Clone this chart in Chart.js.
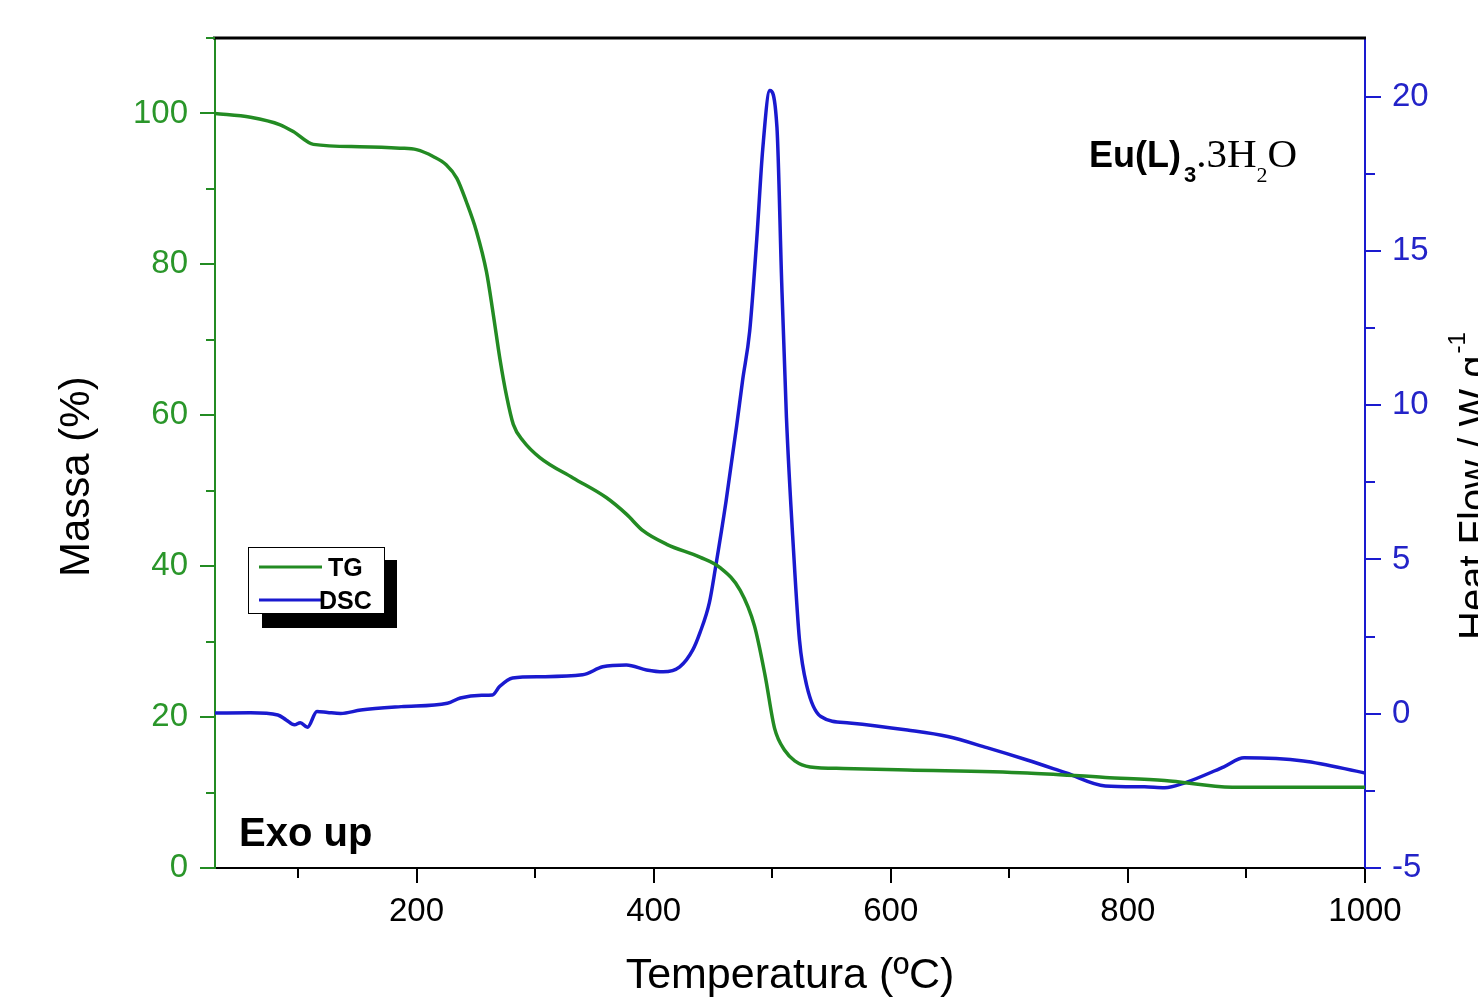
<!DOCTYPE html>
<html><head><meta charset="utf-8">
<script src="https://cdn.jsdelivr.net/npm/chart.js@4.4.1/dist/chart.umd.min.js"></script>
<style>html,body{margin:0;padding:0;background:#fff;overflow:hidden}canvas{display:block}</style>
</head><body>
<canvas id="c" width="1478" height="998"></canvas>
<script>
// ---- data ----
const tgTemp = [30, 60, 85, 96, 113, 152, 186, 200, 214, 225, 234, 242, 250.5, 259, 264.6, 270.3, 276, 281.6, 290, 304, 332, 360, 377, 391, 411, 439, 456, 473, 485, 494, 502, 511, 519, 532, 560, 614, 715, 781, 831, 888, 950, 1000];
const tgMass = [100.0, 99.5, 98.5, 97.6, 95.9, 95.6, 95.4, 95.2, 94.3, 93.2, 91.4, 88.3, 84.4, 79.0, 73.5, 67.5, 62.5, 58.8, 56.6, 54.4, 51.7, 49.1, 46.9, 44.7, 42.9, 41.2, 39.8, 36.8, 32.1, 25.5, 18.5, 15.5, 14.2, 13.4, 13.2, 13.0, 12.6, 12.0, 11.6, 10.7, 10.7, 10.7];

const dscTemp = [30, 60, 83, 90, 97, 102, 108, 116, 125, 136, 153, 187, 226, 237, 255, 264, 270, 281, 304, 340, 357, 377, 394, 408, 422, 433, 439, 447, 452, 461, 470, 475, 481, 487, 492, 498, 504, 508, 512, 518, 523, 529, 541, 565, 614, 648, 681, 715, 748, 781, 814, 831, 848, 881, 898, 948, 1000];
const dscHeat = [0.02, 0.03, -0.04, -0.2, -0.36, -0.29, -0.44, 0.07, 0.04, 0.01, 0.12, 0.23, 0.34, 0.51, 0.6, 0.61, 0.88, 1.16, 1.20, 1.26, 1.52, 1.58, 1.42, 1.36, 1.52, 2.07, 2.62, 3.6, 4.7, 6.87, 9.33, 10.8, 12.4, 15.4, 18.3, 20.2, 19.0, 13.97, 9.6, 5.28, 2.39, 0.93, -0.09, -0.3, -0.53, -0.74, -1.1, -1.5, -1.92, -2.34, -2.37, -2.4, -2.24, -1.72, -1.43, -1.53, -1.92];

const xTickLabels = [200, 400, 600, 800, 1000];
const massTickLabels = [0, 20, 40, 60, 80, 100];
const heatTickLabels = [-5, 0, 5, 10, 15, 20];

const GREEN = '#238b23';
const GREEN_TXT = '#2a962a';
const BLUE = '#1a1acf';
const BLUE_TXT = '#2323c8';
const FONT = "'Liberation Sans', Arial, sans-serif";
const SERIF = "'Liberation Serif', 'Times New Roman', serif";

function isMajor(v, list) { return list.some(m => Math.abs(m - v) < 1e-6); }
function pts(xs, ys) { return xs.map((x, i) => ({x: x, y: ys[i]})); }

const decor = {
  id: 'decor',
  afterDraw(chart) {
    const ctx = chart.ctx, a = chart.chartArea;
    const sx = chart.scales.x, sl = chart.scales.yL, sr = chart.scales.yR;
    ctx.save();
    // top frame line
    ctx.strokeStyle = '#000'; ctx.lineWidth = 3;
    ctx.beginPath(); ctx.moveTo(a.left - 2, a.top); ctx.lineTo(a.right + 1, a.top); ctx.stroke();
    // tick marks (major / minor)
    ctx.lineWidth = 2;
    ctx.strokeStyle = '#000';
    sx.ticks.forEach(t => {
      const p = Math.round(sx.getPixelForValue(t.value));
      const L = isMajor(t.value, xTickLabels) ? 15 : 10;
      ctx.beginPath(); ctx.moveTo(p, a.bottom); ctx.lineTo(p, a.bottom + L); ctx.stroke();
    });
    ctx.strokeStyle = GREEN;
    sl.ticks.forEach(t => {
      const p = Math.round(sl.getPixelForValue(t.value));
      const L = isMajor(t.value, massTickLabels) ? 15 : 9;
      ctx.beginPath(); ctx.moveTo(a.left, p); ctx.lineTo(a.left - L, p); ctx.stroke();
    });
    ctx.strokeStyle = BLUE;
    sr.ticks.forEach(t => {
      const p = Math.round(sr.getPixelForValue(t.value));
      const L = isMajor(t.value, heatTickLabels) ? 16 : 10;
      ctx.beginPath(); ctx.moveTo(a.right, p); ctx.lineTo(a.right + L, p); ctx.stroke();
    });

    // left axis title
    ctx.fillStyle = '#000';
    ctx.font = '42px ' + FONT;
    ctx.textBaseline = 'alphabetic';
    ctx.textAlign = 'left';
    ctx.save(); ctx.translate(89, 577); ctx.rotate(-Math.PI / 2);
    ctx.fillText('Massa (%)', 0, 0); ctx.restore();

    // right axis title (clipped by the page edge)
    ctx.save(); ctx.translate(1487, 640); ctx.rotate(-Math.PI / 2);
    ctx.font = '40px ' + FONT;
    ctx.fillText('Heat Flow / W g', 0, 0);
    const w = ctx.measureText('Heat Flow / W g').width;
    ctx.font = '24px ' + FONT;
    ctx.fillText('-1', w + 2, -22);
    ctx.restore();

    // Exo up
    ctx.font = 'bold 40px ' + FONT;
    ctx.fillText('Exo up', 239, 846);

    // Compound label Eu(L)3.3H2O
    let x = 1089; const base = 167;
    ctx.font = 'bold 36px ' + FONT;
    ctx.fillText('Eu(L)', x, base); x += ctx.measureText('Eu(L)').width;
    ctx.font = 'bold 22px ' + FONT;
    ctx.fillText('3', x + 3, base + 15); x += ctx.measureText('3').width + 3;
    ctx.font = '41px ' + SERIF;
    ctx.fillText('.3H', x, base); x += ctx.measureText('.3H').width;
    ctx.font = '22px ' + SERIF;
    ctx.fillText('2', x, base + 15); x += ctx.measureText('2').width;
    ctx.font = '41px ' + SERIF;
    ctx.fillText('O', x, base);

    // legend with drop shadow
    ctx.fillStyle = '#000';
    ctx.fillRect(262, 560, 135, 68);
    ctx.fillStyle = '#fff';
    ctx.fillRect(248, 547, 137, 67);
    ctx.strokeStyle = '#000'; ctx.lineWidth = 1;
    ctx.strokeRect(248.5, 547.5, 136, 66);
    ctx.lineWidth = 3;
    ctx.strokeStyle = GREEN;
    ctx.beginPath(); ctx.moveTo(259, 567); ctx.lineTo(322, 567); ctx.stroke();
    ctx.strokeStyle = BLUE;
    ctx.beginPath(); ctx.moveTo(259, 600); ctx.lineTo(321, 600); ctx.stroke();
    ctx.fillStyle = '#000';
    ctx.font = 'bold 25px ' + FONT;
    ctx.fillText('TG', 328, 576);
    ctx.fillText('DSC', 319, 609);
    ctx.restore();
  }
};

new Chart(document.getElementById('c'), {
  type: 'line',
  data: {
    datasets: [
      { label: 'TG', data: pts(tgTemp, tgMass), yAxisID: 'yL', borderColor: GREEN, borderWidth: 3.5,
        pointRadius: 0, cubicInterpolationMode: 'monotone', fill: false },
      { label: 'DSC', data: pts(dscTemp, dscHeat), yAxisID: 'yR', borderColor: BLUE, borderWidth: 3.5,
        pointRadius: 0, cubicInterpolationMode: 'monotone', fill: false }
    ]
  },
  options: {
    responsive: false,
    devicePixelRatio: 1,
    animation: false,
    layout: { padding: { top: 38, left: 0, right: 0, bottom: 0 } },
    plugins: { legend: { display: false }, tooltip: { enabled: false } },
    scales: {
      x: {
        type: 'linear', position: 'bottom', min: 30, max: 1000,
        afterFit: s => { s.height = 130; s.paddingLeft = 0; s.paddingRight = 0; },
        grid: { display: false, drawTicks: false },
        border: { display: true, color: '#000', width: 2 },
        ticks: { stepSize: 100, includeBounds: false, autoSkip: false, maxRotation: 0, padding: 24,
          color: '#000', font: { size: 33, family: FONT },
          callback: v => isMajor(v, xTickLabels) ? String(v) : '' },
        title: { display: true, text: 'Temperatura (ºC)', color: '#000',
          font: { size: 43, family: FONT, lineHeight: 1.0 }, padding: { top: 0, bottom: 0 } }
      },
      yL: {
        type: 'linear', position: 'left', min: 0, max: 110,
        afterFit: s => { s.width = 215; s.paddingTop = 0; s.paddingBottom = 0; },
        grid: { display: false, drawTicks: false },
        border: { display: true, color: GREEN, width: 2 },
        ticks: { stepSize: 10, includeBounds: false, autoSkip: false, padding: 27,
          color: GREEN_TXT, font: { size: 33, family: FONT },
          callback: v => isMajor(v, massTickLabels) ? String(v) : '' }
      },
      yR: {
        type: 'linear', position: 'right', min: -5, max: 21.9,
        afterFit: s => { s.width = 113; s.paddingTop = 0; s.paddingBottom = 0; },
        grid: { display: false, drawTicks: false },
        border: { display: true, color: BLUE, width: 2 },
        ticks: { stepSize: 2.5, includeBounds: false, autoSkip: false, padding: 27,
          color: BLUE_TXT, font: { size: 33, family: FONT },
          callback: v => isMajor(v, heatTickLabels) ? String(v) : '' }
      }
    }
  },
  plugins: [decor]
});
</script>
</body></html>
